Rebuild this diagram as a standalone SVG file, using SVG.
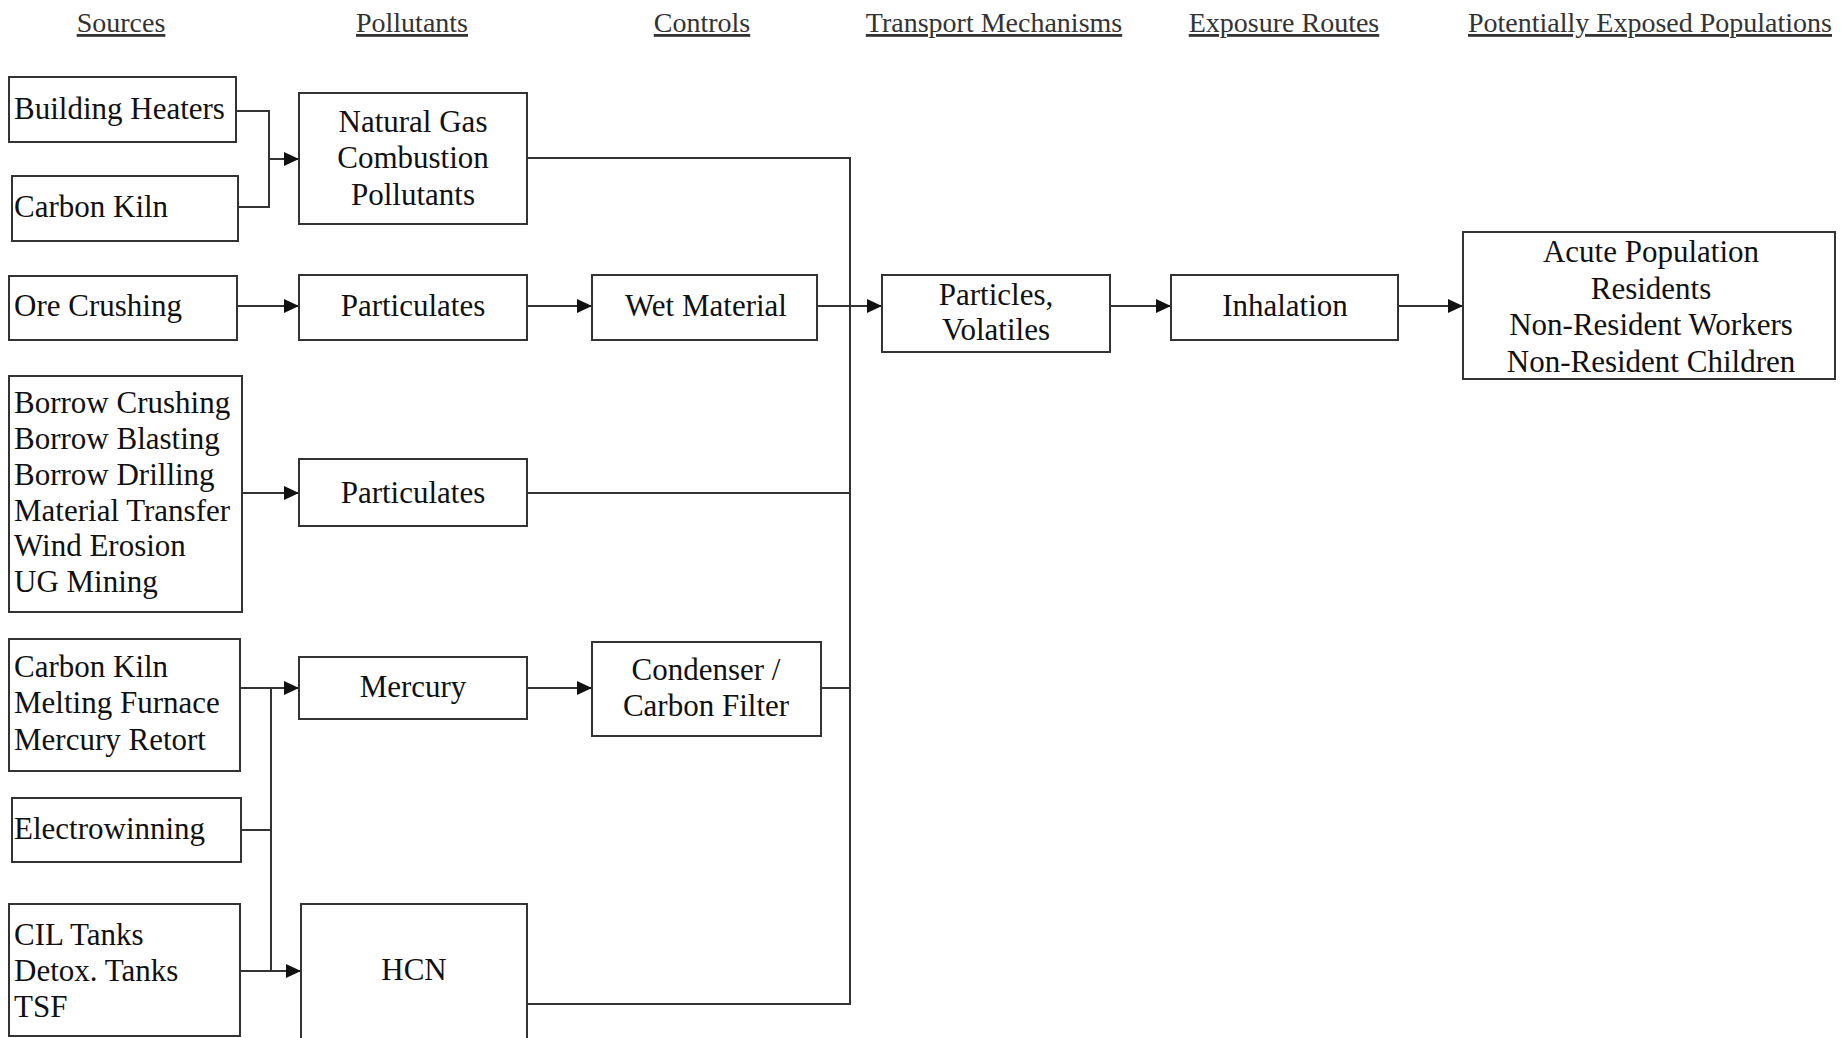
<svg xmlns="http://www.w3.org/2000/svg" width="1841" height="1038" viewBox="0 0 1841 1038">
<style>
.hdr{font-family:"Liberation Serif","Times New Roman",serif;font-size:28px;fill:#333;text-anchor:middle;text-decoration:underline}
.box{fill:#fff;stroke:#333;stroke-width:2}
.t{font-family:"Liberation Serif","Times New Roman",serif;font-size:31px;fill:#111}
.c{text-anchor:middle}
.ln{fill:none;stroke:#333;stroke-width:2}
</style>
<defs>
<marker id="arr" viewBox="0 0 15 14" refX="15" refY="7" markerWidth="15" markerHeight="14" markerUnits="userSpaceOnUse" orient="auto">
<path d="M0,0 L15,7 L0,14 z" fill="#111"/>
</marker>
</defs>
<rect width="1841" height="1038" fill="#fff"/>
<g id="headers">
<text class="hdr" x="121" y="32">Sources</text>
<text class="hdr" x="412" y="32">Pollutants</text>
<text class="hdr" x="702" y="32">Controls</text>
<text class="hdr" x="994" y="32">Transport Mechanisms</text>
<text class="hdr" x="1284" y="32">Exposure Routes</text>
<text class="hdr" x="1650" y="32">Potentially Exposed Populations</text>
</g>
<g id="connectors">
<path class="ln" d="M236,111 H269 V207 H238"/>
<path class="ln" d="M269,159 H299" marker-end="url(#arr)"/>
<path class="ln" d="M527,158 H850 V1004 H527"/>
<path class="ln" d="M237,306 H299" marker-end="url(#arr)"/>
<path class="ln" d="M527,306 H592" marker-end="url(#arr)"/>
<path class="ln" d="M817,306 H882" marker-end="url(#arr)"/>
<path class="ln" d="M1110,306 H1171" marker-end="url(#arr)"/>
<path class="ln" d="M1398,306 H1463" marker-end="url(#arr)"/>
<path class="ln" d="M242,493 H299" marker-end="url(#arr)"/>
<path class="ln" d="M527,493 H850"/>
<path class="ln" d="M240,688 H299" marker-end="url(#arr)"/>
<path class="ln" d="M271,688 V971"/>
<path class="ln" d="M241,830 H271"/>
<path class="ln" d="M240,971 H301" marker-end="url(#arr)"/>
<path class="ln" d="M527,688 H592" marker-end="url(#arr)"/>
<path class="ln" d="M821,688 H850"/>
</g>
<g id="building-heaters">
<rect class="box" x="9" y="77" width="227" height="65"/>
<text class="t" x="14" y="119">Building Heaters</text>
</g>
<g id="carbon-kiln-1">
<rect class="box" x="12" y="176" width="226" height="65"/>
<text class="t" x="14" y="217">Carbon Kiln</text>
</g>
<g id="natural-gas">
<rect class="box" x="299" y="93" width="228" height="131"/>
<text class="t c" x="413" y="132">Natural Gas</text>
<text class="t c" x="413" y="168">Combustion</text>
<text class="t c" x="413" y="205">Pollutants</text>
</g>
<g id="ore-crushing">
<rect class="box" x="9" y="276" width="228" height="64"/>
<text class="t" x="14" y="316">Ore Crushing</text>
</g>
<g id="particulates-1">
<rect class="box" x="299" y="275" width="228" height="65"/>
<text class="t c" x="413" y="316">Particulates</text>
</g>
<g id="wet-material">
<rect class="box" x="592" y="275" width="225" height="65"/>
<text class="t c" x="706" y="316">Wet Material</text>
</g>
<g id="particles-volatiles">
<rect class="box" x="882" y="275" width="228" height="77"/>
<text class="t c" x="996" y="305">Particles,</text>
<text class="t c" x="996" y="340">Volatiles</text>
</g>
<g id="inhalation">
<rect class="box" x="1171" y="275" width="227" height="65"/>
<text class="t c" x="1285" y="316">Inhalation</text>
</g>
<g id="populations">
<rect class="box" x="1463" y="232" width="372" height="147"/>
<text class="t c" x="1651" y="262">Acute Population</text>
<text class="t c" x="1651" y="299">Residents</text>
<text class="t c" x="1651" y="335">Non-Resident Workers</text>
<text class="t c" x="1651" y="372">Non-Resident Children</text>
</g>
<g id="borrow-sources">
<rect class="box" x="9" y="376" width="233" height="236"/>
<text class="t" x="14" y="413">Borrow Crushing</text>
<text class="t" x="14" y="449">Borrow Blasting</text>
<text class="t" x="14" y="485">Borrow Drilling</text>
<text class="t" x="14" y="521">Material Transfer</text>
<text class="t" x="14" y="556">Wind Erosion</text>
<text class="t" x="14" y="592">UG Mining</text>
</g>
<g id="particulates-2">
<rect class="box" x="299" y="459" width="228" height="67"/>
<text class="t c" x="413" y="503">Particulates</text>
</g>
<g id="mercury-sources">
<rect class="box" x="9" y="639" width="231" height="132"/>
<text class="t" x="14" y="677">Carbon Kiln</text>
<text class="t" x="14" y="713">Melting Furnace</text>
<text class="t" x="14" y="750">Mercury Retort</text>
</g>
<g id="mercury">
<rect class="box" x="299" y="657" width="228" height="62"/>
<text class="t c" x="413" y="697">Mercury</text>
</g>
<g id="condenser">
<rect class="box" x="592" y="642" width="229" height="94"/>
<text class="t c" x="706" y="680">Condenser /</text>
<text class="t c" x="706" y="716">Carbon Filter</text>
</g>
<g id="electrowinning">
<rect class="box" x="12" y="798" width="229" height="64"/>
<text class="t" x="14" y="839">Electrowinning</text>
</g>
<g id="cil-tanks">
<rect class="box" x="9" y="904" width="231" height="132"/>
<text class="t" x="14" y="945">CIL Tanks</text>
<text class="t" x="14" y="981">Detox. Tanks</text>
<text class="t" x="14" y="1017">TSF</text>
</g>
<g id="hcn">
<rect class="box" x="301" y="904" width="226" height="140"/>
<text class="t c" x="414" y="980">HCN</text>
</g>
</svg>
